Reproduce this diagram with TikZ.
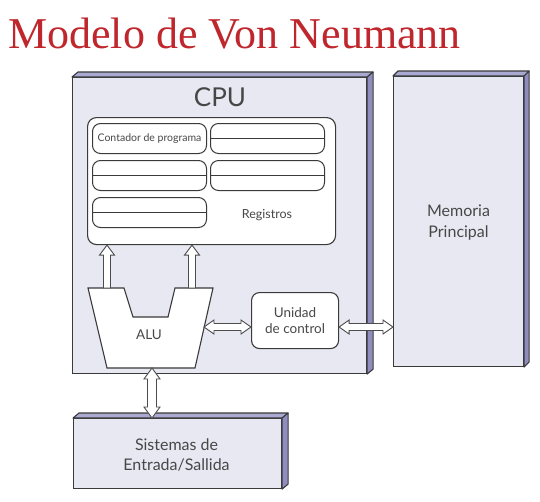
\documentclass[tikz,border=0pt]{standalone}
\usepackage{fontspec}
\setmainfont{Liberation Serif}
\newfontfamily\diagfont{Lato}
\usetikzlibrary{calc}
\definecolor{titlered}{HTML}{C0272D}
\definecolor{frontface}{HTML}{E8E8F3}
\definecolor{topface}{HTML}{A9A9D2}
\definecolor{sideface}{HTML}{8F8DBE}
\definecolor{edgecol}{HTML}{3A3A3A}
\definecolor{txt}{HTML}{474747}
\newcommand\hollowH[2]{\draw[hollow] let \p1=(#1), \p2=(#2) in
  (\x1,\y1) -- (\x1+10pt,\y1+7pt) -- (\x1+10pt,\y1+3.5pt) -- (\x2-10pt,\y1+3.5pt) -- (\x2-10pt,\y1+7pt)
  -- (\x2,\y1) -- (\x2-10pt,\y1-7pt) -- (\x2-10pt,\y1-3.5pt) -- (\x1+10pt,\y1-3.5pt) -- (\x1+10pt,\y1-7pt) -- cycle;}
\newcommand\hollowUp[2]{\draw[hollow] let \p1=(#1), \p2=(#2) in
  (\x1-3.5pt,\y1) -- (\x1-3.5pt,\y2-10pt) -- (\x1-7.5pt,\y2-10pt) -- (\x1,\y2) -- (\x1+7.5pt,\y2-10pt)
  -- (\x1+3.5pt,\y2-10pt) -- (\x1+3.5pt,\y1) -- cycle;}
\newcommand\hollowV[2]{\draw[hollow] let \p1=(#1), \p2=(#2) in
  (\x1,\y1) -- (\x1+8pt,\y1-11pt) -- (\x1+4.5pt,\y1-11pt) -- (\x1+4.5pt,\y2+11pt) -- (\x1+8pt,\y2+11pt)
  -- (\x1,\y2) -- (\x1-8pt,\y2+11pt) -- (\x1-4.5pt,\y2+11pt) -- (\x1-4.5pt,\y1-11pt) -- (\x1-8pt,\y1-11pt) -- cycle;}
\begin{document}
\begin{tikzpicture}[x=1pt,y=-1pt,
  front/.style={draw=edgecol, line width=1.1pt, fill=frontface, anchor=north west, inner sep=0pt},
  topf/.style={draw=edgecol, line width=1.1pt, fill=topface, line join=round},
  sidef/.style={draw=edgecol, line width=1.1pt, fill=sideface, line join=round},
  regbox/.style={draw=edgecol, line width=1pt, fill=white, rounded corners=8pt, anchor=north west, inner sep=0pt, minimum width=114pt, minimum height=30pt},
  label/.style={font=\diagfont, text=txt, align=center},
  hollow/.style={draw=gray!60!black, line width=0.9pt, fill=white, line join=miter},
]
\useasboundingbox (0,0) rectangle (540,501);
\fill[white] (0,0) rectangle (540,501);

\node[anchor=base west, text=titlered, font=\fontsize{44}{50}\selectfont, inner sep=0pt] (title) at (8,48) {Modelo de Von Neumann};

% CPU
\node[front, minimum width=294pt, minimum height=296pt] (cpu) at (72,77) {};
\draw[topf] (cpu.north west) -- ++(6,-5) -- ($(cpu.north east)+(6,-5)$) -- (cpu.north east) -- cycle;
\draw[sidef] (cpu.north east) -- ++(6,-5) -- ($(cpu.south east)+(6,-5)$) -- (cpu.south east) -- cycle;
\node[label, font=\diagfont\fontsize{26}{30}\selectfont] (cpulbl) at (220,97) {CPU};

% Memory
\node[front, minimum width=130pt, minimum height=290pt] (mem) at (393,76) {};
\draw[topf] (mem.north west) -- ++(5,-5) -- ($(mem.north east)+(5,-5)$) -- (mem.north east) -- cycle;
\draw[sidef] (mem.north east) -- ++(5,-5) -- ($(mem.south east)+(5,-5)$) -- (mem.south east) -- cycle;
\node[label, font=\diagfont\fontsize{16}{21}\selectfont] (memlbl) at ($(mem.center)+(0,1)$) {Memoria\\Principal};

% I/O
\node[front, minimum width=208pt, minimum height=70pt] (io) at (73,418) {};
\draw[topf] (io.north west) -- ++(6,-5) -- ($(io.north east)+(6,-5)$) -- (io.north east) -- cycle;
\draw[sidef] (io.north east) -- ++(6,-5) -- ($(io.south east)+(6,-5)$) -- (io.south east) -- cycle;
\node[label, font=\diagfont\fontsize{16}{20}\selectfont] (iolbl) at ($(io.center)+(-1,1)$) {Sistemas de\\Entrada/Sallida};

% Registers
\node[draw=edgecol, line width=1.1pt, fill=white, rounded corners=9pt, anchor=north west, inner sep=0pt,
      minimum width=248pt, minimum height=127pt] (regs) at (87,117) {};
\node[regbox] (r1) at (92,123) {};
\node[label, font=\diagfont\fontsize{10.5}{12}\selectfont, inner sep=0pt] (pc) at (r1.center) {Contador de programa};
\node[regbox] (r2) at (210,123) {};
\node[regbox] (r3) at (92,160) {};
\node[regbox] (r4) at (210,160) {};
\node[regbox] (r5) at (92,197) {};
\foreach \r in {r2,r3,r4,r5} \draw[draw=edgecol, line width=1pt] (\r.west) -- (\r.east);
\node[label, font=\diagfont\fontsize{12.5}{14}\selectfont] (reglbl) at (267,215) {Registros};

% Control unit
\node[draw=edgecol, line width=1.1pt, fill=white, rounded corners=8pt, anchor=north west, inner sep=0pt,
      minimum width=87pt, minimum height=56pt] (ctl) at (251,292) {};
\node[label, font=\diagfont\fontsize{13.5}{16}\selectfont] (ctllbl) at (ctl.center) {Unidad\\de control};

% ALU
\draw[draw=edgecol, line width=1.1pt, fill=white, line join=miter]
  (88,288) -- (124,288) -- (133,317) -- (168,317) -- (175,288) -- (213,288) -- (195,368) -- (107,368) -- cycle;
\node[label, font=\diagfont\fontsize{13.5}{15}\selectfont] (alu) at (149,335) {ALU};

% connectors
\coordinate (u1) at (107,288);
\coordinate (u2) at (192,288);
\hollowUp{u1}{u1 |- regs.south}
\hollowUp{u2}{u2 |- regs.south}
\coordinate (ah) at (204,327);
\hollowH{ah}{ah -| ctl.west}
\hollowH{ah -| ctl.east}{ah -| mem.west}
\coordinate (av) at (152,368);
\hollowV{av}{av |- io.north}
\end{tikzpicture}
\end{document}
